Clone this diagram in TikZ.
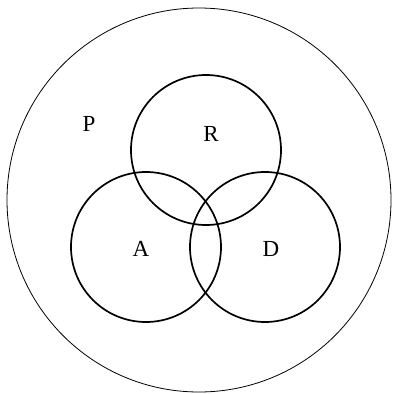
\documentclass[tikz,border=0pt]{standalone}
\usepackage{fontspec}
\setmainfont{Liberation Serif}
\usepackage{tikz}
\definecolor{blackmain}{HTML}{000000}
\tikzset{every node/.append style={font=\fontsize{23}{26}\selectfont\rmfamily}}
\tikzset{setcircle/.style={blackmain,line width=1.7pt}}

\begin{document}
\begin{tikzpicture}[x=1pt,y=-1pt]
\useasboundingbox (0,0) rectangle (392,394);
\draw[blackmain,line width=.8pt] (199,200) circle (192);
\draw[setcircle] (206,150) circle (75);
\draw[setcircle] (146,247) circle (75);
\draw[setcircle] (265,247) circle (75);
\node (P) at (89,124) {P};
\node (R) at (211,134) {R};
\node (A) at (141,249) {A};
\node (D) at (271,249) {D};
\end{tikzpicture}
\end{document}
